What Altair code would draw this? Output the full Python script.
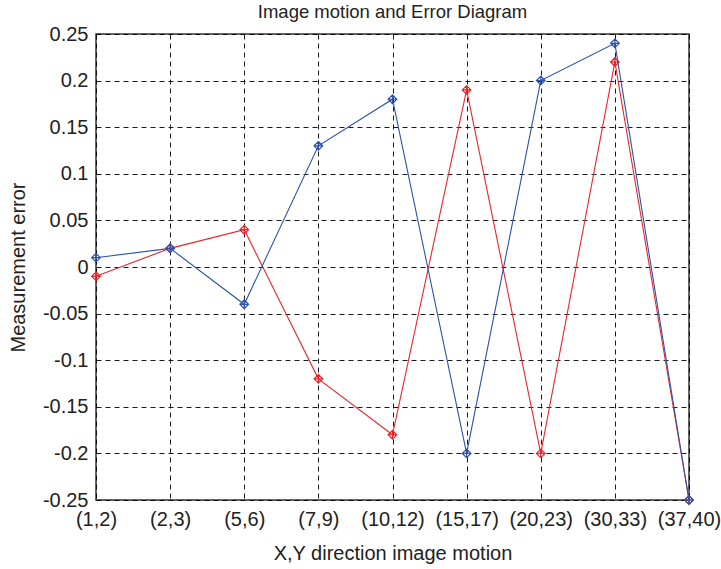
import altair as alt
import pandas as pd

categories = ["(1,2)", "(2,3)", "(5,6)", "(7,9)", "(10,12)", "(15,17)", "(20,23)", "(30,33)", "(37,40)"]
blue_values = [0.01, 0.02, -0.04, 0.13, 0.18, -0.20, 0.20, 0.24, -0.25]
red_values = [-0.01, 0.02, 0.04, -0.12, -0.18, 0.19, -0.20, 0.22, -0.25]
y_ticks = [-0.25, -0.2, -0.15, -0.1, -0.05, 0, 0.05, 0.1, 0.15, 0.2, 0.25]

df_blue = pd.DataFrame({"motion": categories, "error": blue_values})
df_red = pd.DataFrame({"motion": categories, "error": red_values})

FONT = "Liberation Sans"
diamond_plus = "M0,-1L1,0L0,1L-1,0Z M0,-1L0,1 M-1,0L1,0"

x_enc = alt.X(
    "motion:N",
    sort=categories,
    scale=alt.Scale(type="point", padding=0),
    axis=alt.Axis(
        title="X,Y direction image motion",
        labelAngle=0,
        labelFontSize=20,
        titleFontSize=20,
        labelPadding=9,
        titlePadding=14,
        grid=True,
        gridDash=[5, 4],
        gridColor="black",
        gridWidth=0.9,
        ticks=False,
        domain=False,
        labelColor="#222",
        titleColor="#222",
        titleFontWeight="normal",
    ),
)
y_enc = alt.Y(
    "error:Q",
    scale=alt.Scale(domain=[-0.25, 0.25], nice=False, zero=False),
    axis=alt.Axis(
        title="Measurement error",
        values=y_ticks,
        labelExpr="replace(format(datum.value, '~g'), '\u2212', '-')",
        labelFontSize=20,
        titleFontSize=20,
        labelPadding=8,
        titlePadding=14,
        grid=True,
        gridDash=[5, 4],
        gridColor="black",
        gridWidth=0.9,
        ticks=False,
        domain=False,
        labelColor="#222",
        titleColor="#222",
        titleFontWeight="normal",
    ),
)


def series(df, color):
    base = alt.Chart(df).encode(x=x_enc, y=y_enc)
    line = base.mark_line(color=color, strokeWidth=1.1)
    pts = base.mark_point(shape=diamond_plus, size=75, filled=False, color=color, strokeWidth=1.2, opacity=1)
    return line + pts


chart = alt.layer(
    series(df_red, "#e8262d"),
    series(df_blue, "#2d52a8"),
).properties(
    width=593,
    height=466,
    title=alt.TitleParams("Image motion and Error Diagram", fontSize=18.5, font=FONT, fontWeight="normal", color="#222", offset=3),
    autosize=alt.AutoSizeParams(type="none"),
    padding={"left": 96, "top": 34, "right": 32, "bottom": 69},
).configure(font=FONT).configure_view(stroke="#333", strokeWidth=1.5).configure_axis(labelFont=FONT, titleFont=FONT)

chart.save("out.html", embed_options={"renderer": "svg", "actions": False})
